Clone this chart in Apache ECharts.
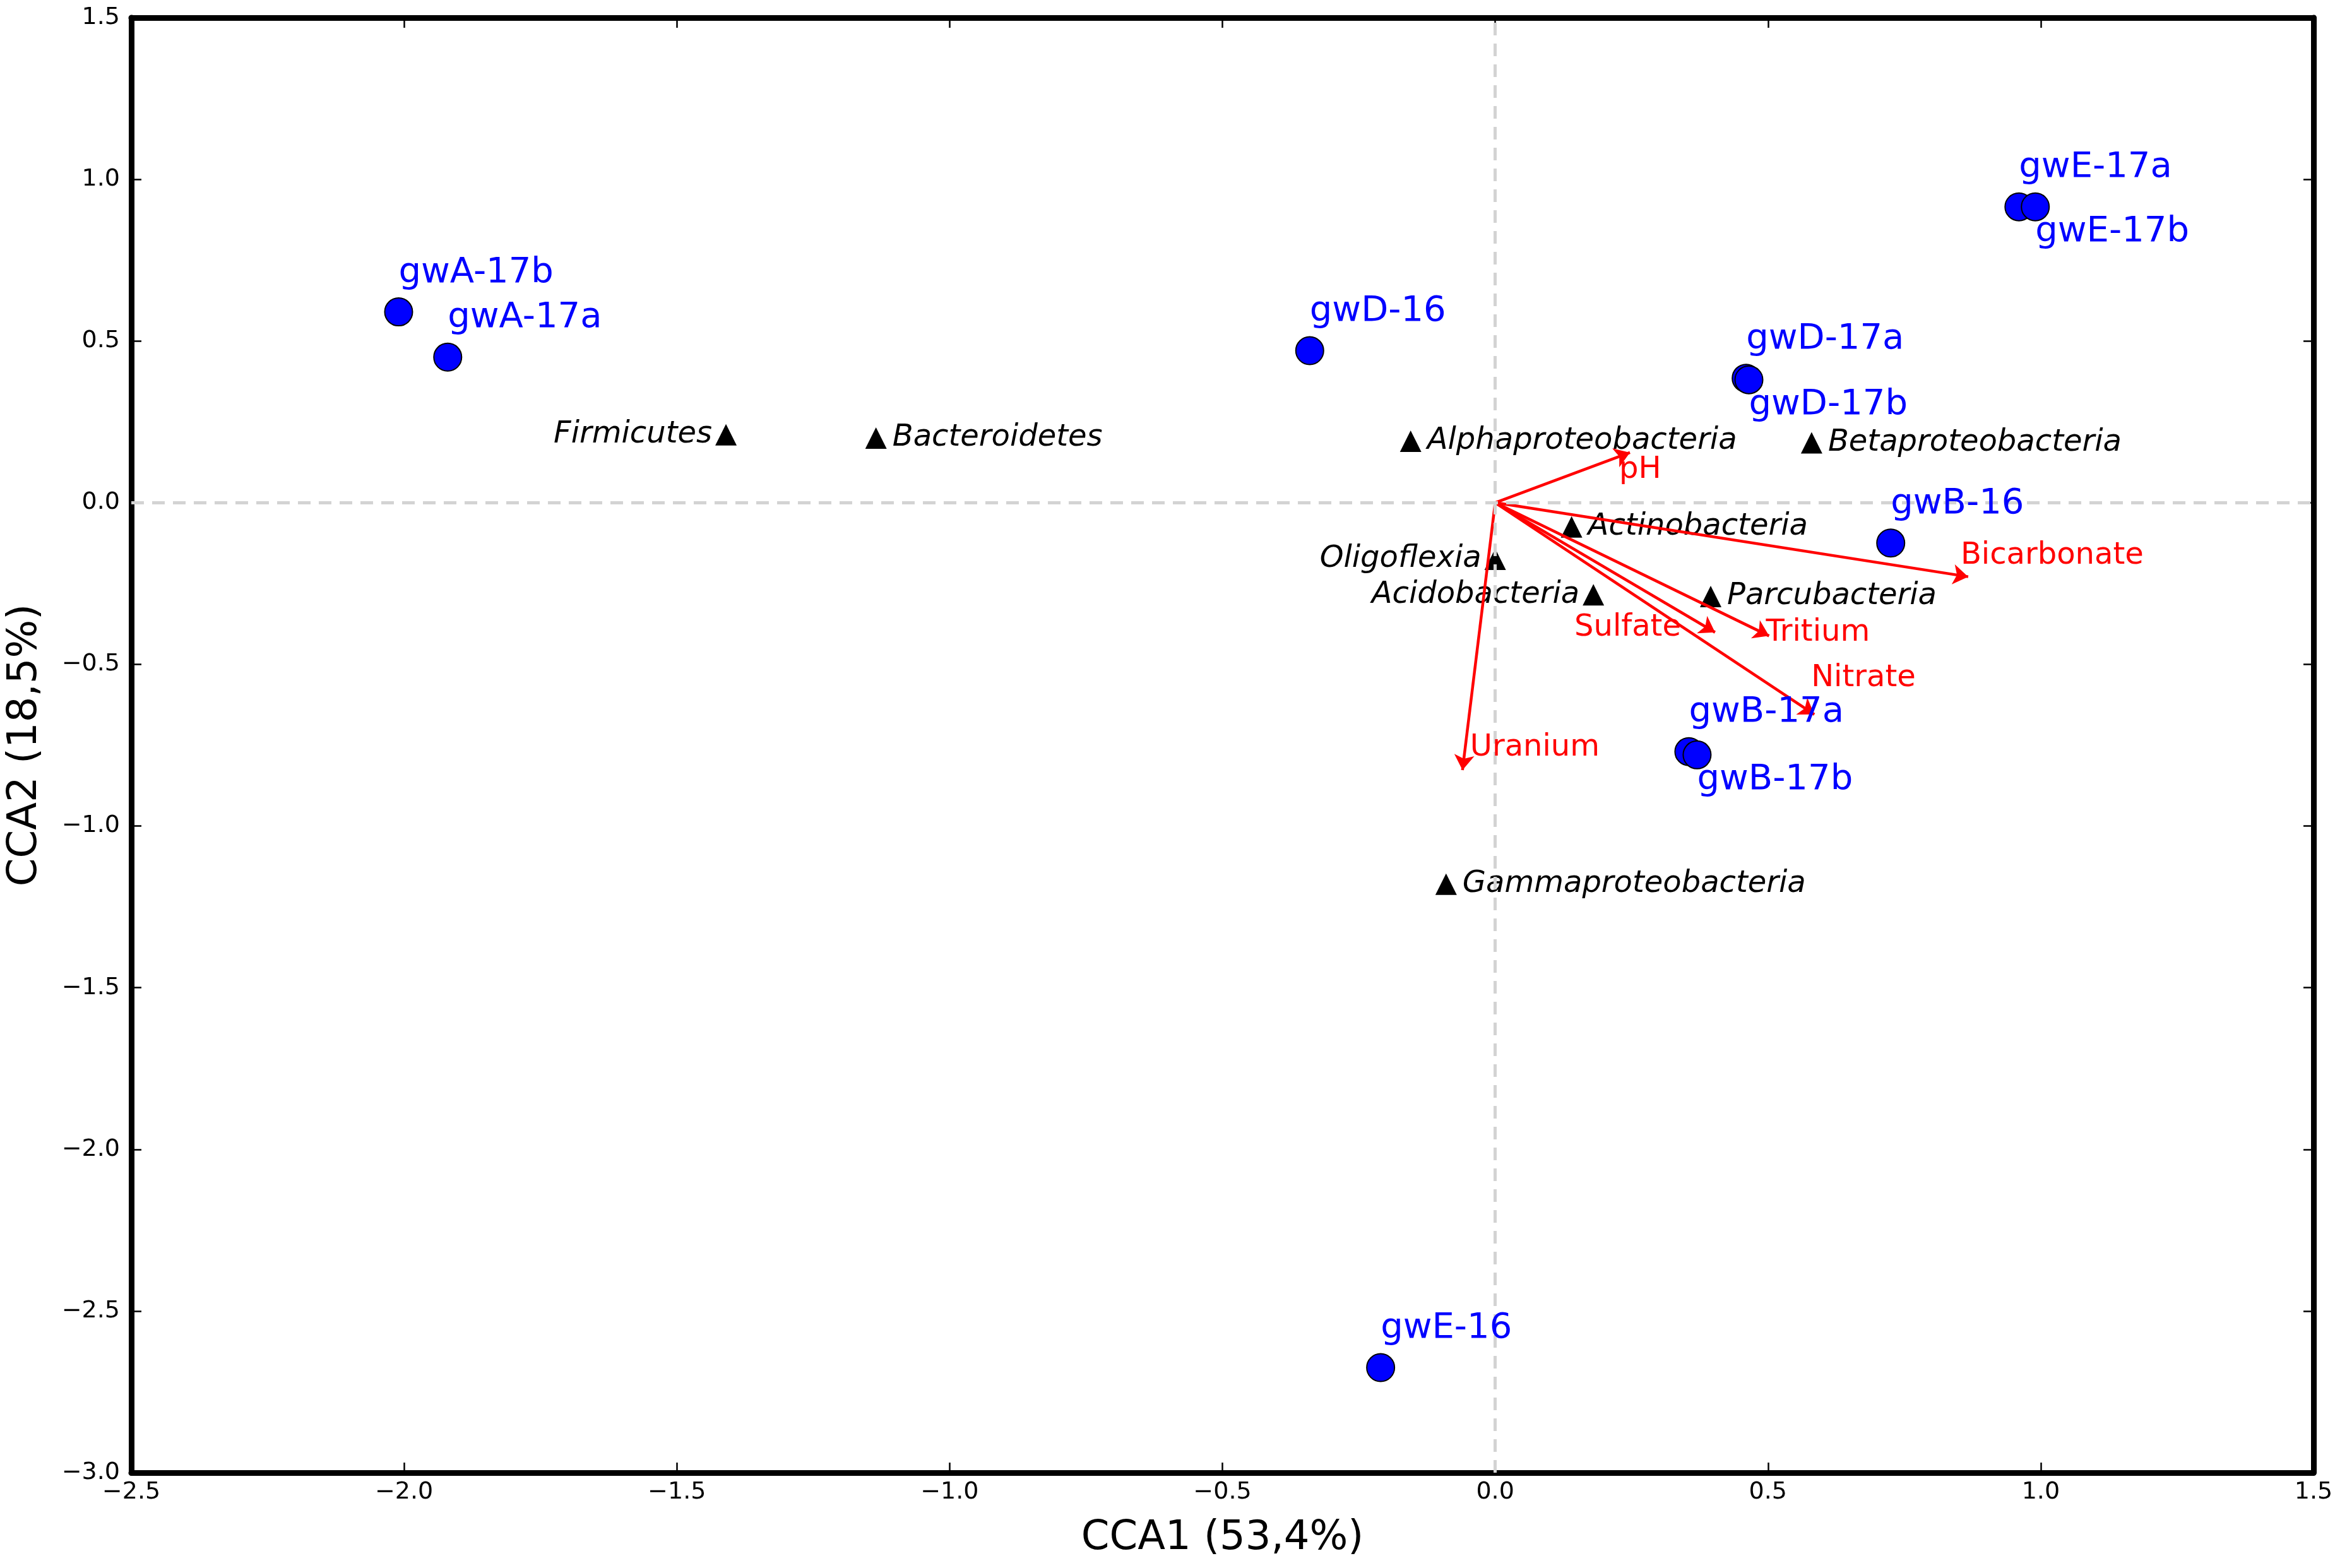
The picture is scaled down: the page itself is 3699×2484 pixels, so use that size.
<!DOCTYPE html>
<html>
<head>
<meta charset="utf-8">
<script src="https://cdn.jsdelivr.net/npm/echarts@6/dist/echarts.min.js"></script>
<style>
html, body { margin: 0; padding: 0; background: #fff; }
#chart { width: 3699px; height: 2484px; }
</style>
</head>
<body>
<div id="chart"></div>
<script>
// sample sites (blue circles)
var siteNames = ['gwA-17b', 'gwA-17a', 'gwD-16', 'gwD-17a', 'gwD-17b', 'gwE-17a', 'gwE-17b', 'gwB-16', 'gwB-17a', 'gwB-17b', 'gwE-16'];
var siteCCA1 = [-2.01, -1.92, -0.34, 0.46, 0.465, 0.96, 0.99, 0.725, 0.355, 0.37, -0.21];
var siteCCA2 = [0.59, 0.45, 0.47, 0.385, 0.38, 0.915, 0.915, -0.125, -0.77, -0.78, -2.675];

// taxa (black triangles)
var taxaNames = ['Firmicutes', 'Bacteroidetes', 'Alphaproteobacteria', 'Betaproteobacteria', 'Actinobacteria', 'Oligoflexia', 'Acidobacteria', 'Parcubacteria', 'Gammaproteobacteria'];
var taxaCCA1 = [-1.41, -1.135, -0.155, 0.58, 0.14, 0.0, 0.18, 0.395, -0.09];
var taxaCCA2 = [0.21, 0.2, 0.19, 0.185, -0.075, -0.175, -0.285, -0.29, -1.18];

// environmental vectors (red arrows)
var envNames = ['pH', 'Bicarbonate', 'Tritium', 'Sulfate', 'Nitrate', 'Uranium'];
var envCCA1 = [0.247, 0.867, 0.502, 0.403, 0.585, -0.06];
var envCCA2 = [0.155, -0.229, -0.412, -0.401, -0.655, -0.827];

// axes
var xMin = -2.5, xMax = 1.5, yMin = -3.0, yMax = 1.5, step = 0.5;
var xTitle = 'CCA1 (53,4%)', yTitle = 'CCA2 (18,5%)';

// label placement only
var siteBelow = ['gwD-17b', 'gwE-17b', 'gwB-17b'];
var taxaLeft = ['Firmicutes', 'Oligoflexia', 'Acidobacteria'];
var envLabelPos = {
	'pH': [-17, 28, 'left'],
	'Bicarbonate': [-12, -33, 'left'],
	'Tritium': [-5, -5, 'left'],
	'Sulfate': [-54, -7, 'right'],
	'Nitrate': [-5, -57, 'left'],
	'Uranium': [12, -35, 'left']
};

var FONT = 'DejaVu Sans';
var fmt = function(v) { return v.toFixed(1).replace('-', '\u2212'); };

var siteData = siteNames.map(function(n, i) {
	var below = siteBelow.indexOf(n) >= 0;
	return {
		name: n, value: [siteCCA1[i], siteCCA2[i]],
		label: { offset: [0, below ? 40 : -62] }
	};
});
var taxaData = taxaNames.map(function(n, i) {
	var left = taxaLeft.indexOf(n) >= 0;
	return {
		name: n, value: [taxaCCA1[i], taxaCCA2[i]],
		label: { align: left ? 'right' : 'left', offset: [left ? -22 : 26, 0] }
	};
});
var arrowData = envNames.map(function(n, i) {
	return { name: n, coords: [[0, 0], [envCCA1[i], envCCA2[i]]] };
});
var envLabelData = envNames.map(function(n, i) {
	var p = envLabelPos[n];
	return { name: n, value: [envCCA1[i], envCCA2[i]], label: { offset: [p[0], p[1]], align: p[2] } };
});

var axisCommon = {
	type: 'value', splitLine: { show: false },
	axisLine: { show: true, onZero: false, lineStyle: { color: '#000', width: 9 } },
	axisTick: { show: true, inside: true, length: 16, lineStyle: { color: '#000', width: 2.5 } }
};

var chart = echarts.init(document.getElementById('chart'));
var option = {
	backgroundColor: '#fff',
	animation: false,
	textStyle: { fontFamily: FONT },
	grid: { left: 200, right: 34, top: 28, bottom: 151 },
	xAxis: [
		Object.assign({}, axisCommon, {
			position: 'bottom', min: xMin, max: xMax, interval: step,
			name: xTitle, nameLocation: 'middle', nameGap: 72,
			nameTextStyle: { fontSize: 64, color: '#000', fontFamily: FONT },
			axisLabel: { fontSize: 38, color: '#000', margin: 12, formatter: fmt }
		}),
		Object.assign({}, axisCommon, {
			position: 'top', min: xMin, max: xMax, interval: step,
			axisLabel: { show: false }
		})
	],
	yAxis: [
		Object.assign({}, axisCommon, {
			position: 'left', min: yMin, max: yMax, interval: step,
			name: yTitle, nameLocation: 'middle', nameGap: 136, nameRotate: 90,
			nameTextStyle: { fontSize: 64, color: '#000', fontFamily: FONT },
			axisLabel: { fontSize: 38, color: '#000', margin: 18, formatter: fmt }
		}),
		Object.assign({}, axisCommon, {
			position: 'right', min: yMin, max: yMax, interval: step,
			axisLabel: { show: false }
		})
	],
	series: [
		{
			type: 'scatter', name: 'zero', data: [], silent: true,
			markLine: {
				silent: true, symbol: ['none', 'none'], label: { show: false },
				lineStyle: { color: '#d3d3d3', width: 5, type: [20, 13] },
				data: [{ xAxis: 0 }, { yAxis: 0 }]
			}
		},
		{
			type: 'scatter', name: 'taxa', data: taxaData, z: 3,
			symbol: 'triangle', symbolSize: 34,
			itemStyle: { color: '#000', opacity: 1 },
			label: {
				show: true, position: 'inside', formatter: '{b}',
				fontSize: 48, fontStyle: 'italic', color: '#000', verticalAlign: 'middle'
			}
		},
		{
			type: 'lines', name: 'env', coordinateSystem: 'cartesian2d', data: arrowData, z: 4,
			symbol: ['none', 'arrow'], symbolSize: [18, 24],
			lineStyle: { color: '#ff0000', width: 4.5, opacity: 1 }
		},
		{
			type: 'scatter', name: 'envLabels', data: envLabelData, z: 5,
			symbolSize: 0, itemStyle: { opacity: 1 },
			label: {
				show: true, position: 'inside', formatter: '{b}',
				fontSize: 48, color: '#ff0000', verticalAlign: 'middle'
			}
		},
		{
			type: 'scatter', name: 'sites', data: siteData, z: 6,
			symbol: 'circle', symbolSize: 44,
			itemStyle: { color: '#0000ff', borderColor: '#000', borderWidth: 2, opacity: 1 },
			label: {
				show: true, position: 'inside', formatter: '{b}',
				fontSize: 56, color: '#0000ff', align: 'left', verticalAlign: 'middle'
			}
		}
	]
};
chart.setOption(option);
</script>
</body>
</html>
